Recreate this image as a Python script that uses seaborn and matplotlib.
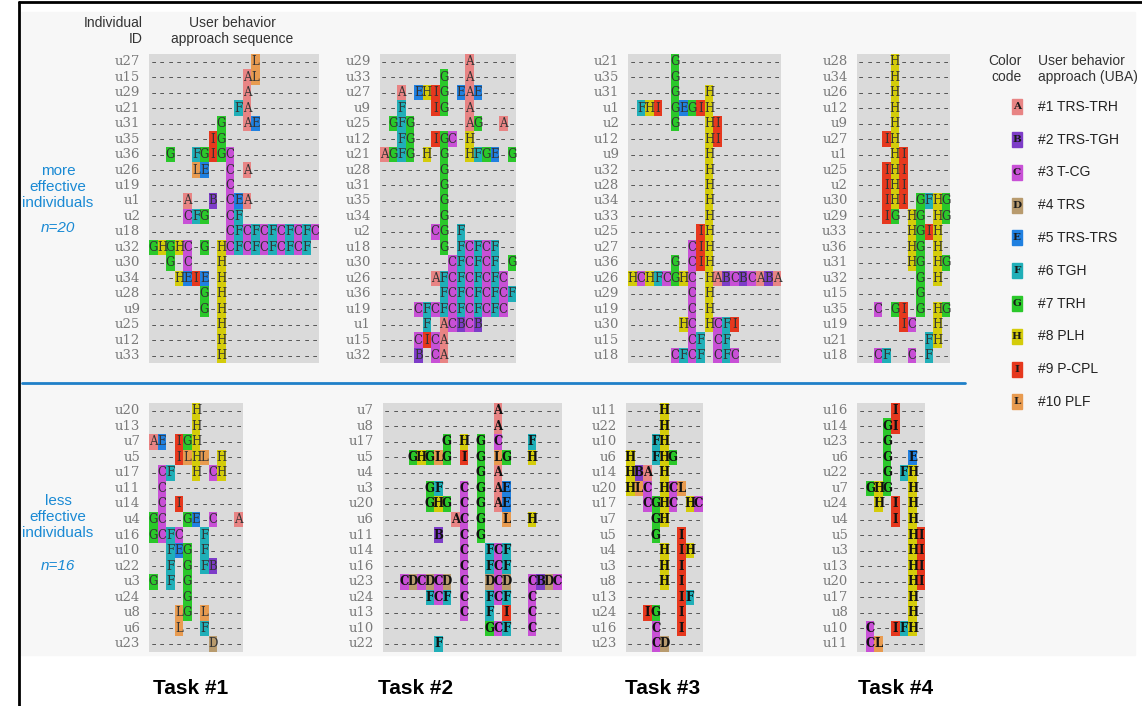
import matplotlib
matplotlib.use("Agg")
import matplotlib.pyplot as plt
import numpy as np
import seaborn as sns
from matplotlib.colors import ListedColormap
from matplotlib.patches import Rectangle

codes = list("ABCDEFGHIL")
code_names = ["#1 TRS-TRH", "#2 TRS-TGH", "#3 T-CG", "#4 TRS", "#5 TRS-TRS",
              "#6 TGH", "#7 TRH", "#8 PLH", "#9 P-CPL", "#10 PLF"]
code_colors = ["#e88484", "#7d3cc8", "#c850d6", "#b89b6e", "#2080e0",
               "#20afb8", "#2ac82a", "#d4cc0a", "#e6381e", "#e89b50"]
gap_color = "#dadada"

task_titles = ["Task #1", "Task #2", "Task #3", "Task #4"]

# more effective individuals (n=20)
t1_more_ids = ["u27", "u15", "u29", "u21", "u31", "u35", "u36", "u26", "u19", "u1",
               "u2", "u18", "u32", "u30", "u34", "u28", "u9", "u25", "u12", "u33"]
t1_more_seq = ["------------L-------", "-----------AL-------", "-----------A--------",
               "----------FA--------", "--------G--AE-------", "-------IG-----------",
               "--G--FGIGC----------", "-----LE--C-A--------", "---------C----------",
               "----A--B-CEA--------", "----CFG--CF---------", "---------CFCFCFCFCFC",
               "GHGHC-G-HCFCFCFCFCF-", "--G-C---H-----------", "---HEIE-H-----------",
               "------G-H-----------", "------G-H-----------", "--------H-----------",
               "--------H-----------", "--------H-----------"]

t2_more_ids = ["u29", "u33", "u27", "u9", "u25", "u12", "u21", "u28", "u31", "u35",
               "u34", "u2", "u18", "u30", "u26", "u36", "u19", "u1", "u15", "u32"]
t2_more_seq = ["----------A-----", "-------G--A-----", "--A-EHIG-EAE----",
               "--F---IG--A-----", "-GFG------AG--A-", "--FG--IGC-H-----",
               "AGFG-H-G--HFGE-G", "-------G--------", "-------G--------",
               "-------G--------", "-------G--------", "------CG-F------",
               "-------G-FCFCF--", "--------CFCFCF-G", "------AFCFCFCFC-",
               "-------FCFCFCFCF", "----CFCFCFCFCFC-", "-----F-ACBCB----",
               "----CICA--------", "----B-CA--------"]

t3_more_ids = ["u21", "u35", "u31", "u1", "u2", "u12", "u9", "u32", "u28", "u34",
               "u33", "u25", "u27", "u36", "u26", "u29", "u19", "u30", "u15", "u18"]
t3_more_seq = ["-----G------------", "-----G------------", "-----G---H--------",
               "-FHI-GEGIH--------", "-----G---HI-------", "---------HI-------",
               "---------H--------", "---------H--------", "---------H--------",
               "---------H--------", "---------H--------", "--------IH--------",
               "-------CIH--------", "-----G-CIH--------", "HCHFCGHC-HABCBCABA",
               "-------C-H--------", "-------C-H--------", "------HC-HCFI-----",
               "-------CF-CF------", "-----CFCF-CFC-----"]

t4_more_ids = ["u28", "u34", "u26", "u12", "u9", "u27", "u1", "u25", "u2", "u30",
               "u29", "u33", "u36", "u31", "u32", "u15", "u35", "u19", "u21", "u18"]
t4_more_seq = ["----H------", "----H------", "----H------", "----H------",
               "----H------", "---IH------", "----HI-----", "---IHI-----",
               "---IHI-----", "---IHI-GFHG", "---IG-HG-HG", "------HGIH-",
               "------HG-H-", "------HG-HG", "-------G-H-", "-------G---",
               "--C-GI-G-HG", "-----IC--H-", "--------FH-", "--CF--C-F--"]

# less effective individuals (n=16)
t1_less_ids = ["u20", "u13", "u7", "u5", "u17", "u11", "u14", "u4",
               "u16", "u10", "u22", "u3", "u24", "u8", "u6", "u23"]
t1_less_seq = ["-----H-----", "-----H-----", "AE-IGH-----", "---ILHL-H--",
               "-CF--H-CH--", "-C---------", "-C-I-------", "GC--GE-C--A",
               "GCFC--F----", "--FEG-F----", "--F-G-FB---", "G-F-G------",
               "----G------", "---LG-L----", "---L--F----", "-------D---"]

t2_less_ids = ["u7", "u8", "u17", "u5", "u4", "u3", "u20", "u6",
               "u11", "u14", "u16", "u23", "u24", "u13", "u10", "u22"]
t2_less_seq = ["-------------A-------", "-------------A-------",
               "-------G-H-G-C---F---", "---GHGLG-I-G-LG--H---",
               "-----------G-A-------", "-----GF--C-G-AE------",
               "-----GHG-C-G-AE------", "--------AC-G--L--H---",
               "------B--C-G---------", "---------C--FCF------",
               "---------C--FCF------", "--CDCDCD-C--DCD--CBDC",
               "-----FCF-C--FCF--C---", "---------C--F-I--C---",
               "------------GCF--C---", "------F--------------"]

t3_less_ids = ["u11", "u22", "u10", "u6", "u14", "u20", "u17", "u7",
               "u5", "u4", "u3", "u8", "u13", "u24", "u16", "u23"]
t3_less_seq = ["----H----", "----H----", "---FH----", "H--FHG---",
               "HBA-H----", "HLC-HCL--", "--CGHC-HC", "---GH----",
               "---G--I--", "----H-IH-", "----H-I--", "----H-I--",
               "------IF-", "--IG--I--", "---C--I--", "---CD----"]

t4_less_ids = ["u16", "u14", "u23", "u6", "u22", "u7", "u24", "u4",
               "u5", "u3", "u13", "u20", "u17", "u8", "u10", "u11"]
t4_less_seq = ["----I---", "---GI---", "---G----", "---G--E-",
               "---G-FH-", "-GHG--H-", "--H-I-H-", "----I-H-",
               "------HI", "------HI", "------HI", "------HI",
               "------H-", "------H-", "-C--IFH-", "-CL-----"]

W, H = 1142, 706
CW = 8.5
fig = plt.figure(figsize=(W / 100, H / 100), dpi=100)
sns.set_style("white")
mono = "Liberation Mono"
serif = "DejaVu Serif"
sans = ["Liberation Sans", "DejaVu Sans"]

# overlay axes in pixel coordinates for background and labels
bg = fig.add_axes([0, 0, 1, 1])
bg.set_xlim(0, W)
bg.set_ylim(H, 0)
bg.axis("off")
bg.add_patch(Rectangle((21, 12), 1114, 643, color="#f7f7f7", zorder=0))
bg.plot([19, 19], [2, H], color="black", lw=2)
bg.plot([19, W], [2, 2], color="black", lw=2)
bg.plot([22, 965], [383, 383], color="#1f80c8", lw=2)

cmap = ListedColormap([gap_color] + code_colors)


def px_axes(left, top, width, height):
    return fig.add_axes([left / W, 1 - (top + height) / H, width / W, height / H])


def draw_panel(ids, seqs, left, top, row_h, bold):
    grid = np.array([[0 if ch == "-" else codes.index(ch) + 1 for ch in s] for s in seqs])
    letters = np.array([list(s) for s in seqs])
    ax = px_axes(left, top, len(seqs[0]) * CW, len(seqs) * row_h)
    sns.heatmap(grid, ax=ax, cmap=cmap, vmin=-0.5, vmax=10.5, cbar=False,
                annot=letters, fmt="", xticklabels=False, yticklabels=ids,
                annot_kws={"family": serif, "size": 8.5,
                           "color": "#111111" if bold else "#333333",
                           "weight": "bold" if bold else "normal"})
    for t in ax.texts:
        if t.get_text() == "-":
            t.set_family(mono)
            t.set_fontsize(10)
            t.set_color("#555555")
            t.set_fontweight("normal")
    ax.tick_params(left=False, bottom=False, pad=3)
    ax.set_yticklabels(ids, rotation=0, family=serif, fontsize=9.5, color="#7a7a7a")
    return ax


top_panels = [(t1_more_ids, t1_more_seq, 149.3), (t2_more_ids, t2_more_seq, 380),
              (t3_more_ids, t3_more_seq, 628.3), (t4_more_ids, t4_more_seq, 856.7)]
bottom_panels = [(t1_less_ids, t1_less_seq, 149.3, False), (t2_less_ids, t2_less_seq, 383, True),
                 (t3_less_ids, t3_less_seq, 626, True), (t4_less_ids, t4_less_seq, 857.3, True)]

for ids, seqs, left in top_panels:
    draw_panel(ids, seqs, left, 54.0, 15.47, False)
for ids, seqs, left, bold in bottom_panels:
    draw_panel(ids, seqs, left, 402.9, 15.55, bold)

# headers
bg.text(143, 31, "Individual\nID", ha="right", va="center", fontsize=10,
        family=sans, color="#333333", linespacing=1.15)
bg.text(232, 31, "User behavior\napproach sequence", ha="center", va="center",
        fontsize=10, family=sans, color="#333333", linespacing=1.15)

# group labels
blue = "#1a8ad4"
bg.text(58, 187, "more\neffective\nindividuals", ha="center", va="center",
        fontsize=11, family=sans, color=blue, linespacing=1.15)
bg.text(58, 228, "n=20", ha="center", va="center", fontsize=11, family=sans,
        color=blue, style="italic")
bg.text(58, 517, "less\neffective\nindividuals", ha="center", va="center",
        fontsize=11, family=sans, color=blue, linespacing=1.15)
bg.text(58, 566, "n=16", ha="center", va="center", fontsize=11, family=sans,
        color=blue, style="italic")

# task titles
for x, title in zip([191, 416, 663, 896], task_titles):
    bg.text(x, 688, title, ha="center", va="center", fontsize=15,
            family=sans, weight="bold", color="black")

# legend
bg.text(1022, 69, "Color\ncode", ha="right", va="center", fontsize=10,
        family=sans, color="#333333", linespacing=1.15)
bg.text(1038, 69, "User behavior\napproach (UBA)", ha="left", va="center",
        fontsize=10, family=sans, color="#333333", linespacing=1.15)
for i, (code, name, col) in enumerate(zip(codes, code_names, code_colors)):
    y = 106.7 + i * 32.8
    bg.add_patch(Rectangle((1012, y - 7.5), 9.5, 15, color=col))
    bg.text(1016.7, y, code, ha="center", va="center", fontsize=7.5,
            family=serif, weight="bold", color="#1a1a1a")
    bg.text(1038, y, name, ha="left", va="center", fontsize=10,
            family=sans, color="#222222")

fig.savefig("out.png", dpi=100)
